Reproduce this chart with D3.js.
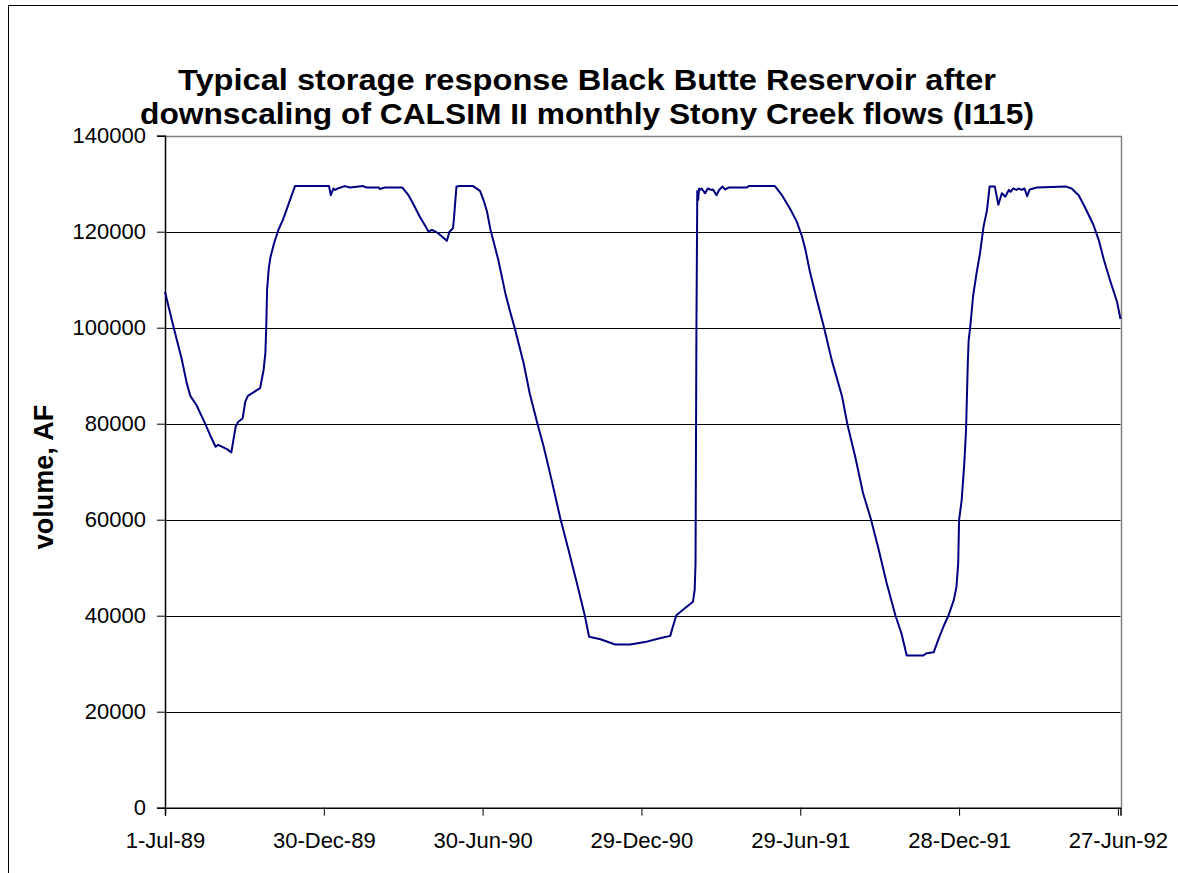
<!DOCTYPE html>
<html>
<head>
<meta charset="utf-8">
<script src="https://cdn.jsdelivr.net/npm/d3@7"></script>
<style>
  body { margin: 0; background: #fff; }
  svg { display: block; }
</style>
</head>
<body>
<svg id="chart" width="1178" height="873"></svg>
<script>
// ---- data ----
const startDate = "1989-07-01";
// day offsets from 1-Jul-89
const dayIndex = [0,10,19,25,29,36,46,52,58,61,71,76,81,84,89,92,95,109,113,115,116,117,119,121,125,130,135,140,144,149,
  188,190,193,195,198,206,212,227,231,245,246,252,272,279,285,292,299,302,306,313,323,326,330,331,334,338,353,
  361,365,369,373,378,382,390,395,401,411,418,427,434,443,453,462,472,481,486,499,516,533,550,567,579,582,586,594,605,607,608,609,
  610,611,612,613,615,619,622,626,628,632,635,639,642,646,667,669,699,707,716,724,730,734,739,747,755,764,776,782,791,800,809,818,827,837,844,850,
  869,873,881,886,892,898,904,907,909,910,913,916,918,920,921,923,926,930,934,938,942,945,951,955,959,963,967,969,972,976,978,982,985,988,991,999,
  1033,1039,1047,1054,1064,1070,1076,1083,1091,1095];
// storage, acre-feet
const storage = [107500,100000,93600,88400,85800,83900,80000,77500,75200,75600,74700,74000,79400,80400,81100,84600,85800,87400,91200,94700,99900,107900,112500,114800,117600,120400,122400,124900,127000,129500,
  129500,127600,129000,128700,129000,129500,129200,129500,129200,129200,128900,129200,129200,127600,125600,123100,121000,120000,120400,119700,118100,120000,120700,122400,129400,129500,129500,
  128500,126600,124200,120400,116900,114100,107200,103700,99800,92600,86300,79900,75200,68300,60300,54000,46800,40100,35600,35100,34000,34000,34500,35300,35800,37700,40100,41300,42900,45400,50900,99500,
  128500,126600,129000,128700,129000,128000,129000,128700,128800,127600,128700,129400,128800,129200,129200,129500,129500,127600,124900,122100,119000,116200,111700,105800,100200,93300,85600,79900,73100,65500,60100,53700,46800,40100,36300,31700,
  31700,32200,32400,34900,37700,40100,43300,46000,50900,59900,64100,71800,78700,92600,97400,100500,106500,111300,115500,121000,124500,129400,129400,125600,128000,127300,128700,128300,129000,128700,129000,128700,129000,127400,128800,129200,
  129400,129000,127600,125200,121400,118300,114100,109900,105400,101800];
const yTicks = [0,20000,40000,60000,80000,100000,120000,140000];
const xTickLabels = ["1-Jul-89","30-Dec-89","30-Jun-90","29-Dec-90","29-Jun-91","28-Dec-91","27-Jun-92"];
const titleLines = ["Typical storage response Black Butte Reservoir after",
                    "downscaling of CALSIM II monthly Stony Creek flows (I115)"];
const yLabel = "volume, AF";

// ---- build ----
const svg = d3.select("#chart");
const FONT = "Liberation Sans, Arial, sans-serif";
const t0 = d3.timeParse("%Y-%m-%d")(startDate);
const data = dayIndex.map((d, i) => ({ date: d3.timeDay.offset(t0, d), v: storage[i] }));
const tickDates = xTickLabels.map(s => d3.timeParse("%-d-%b-%y")(s));

const L = 165, R = 1120.5, T = 135.7, B = 807.7;
const x = d3.scaleTime().domain([t0, d3.timeDay.offset(t0, 1095)]).range([L, R]);
const y = d3.scaleLinear().domain([0, 140000]).range([B, T]);

// outer chart border
svg.append("rect").attr("x", 8.5).attr("y", 5.5).attr("width", 1200).attr("height", 900)
  .attr("fill", "none").attr("stroke", "#000").attr("stroke-width", 1);

// gridlines
svg.append("g").selectAll("line").data(yTicks.filter(v => v > 0 && v < 140000)).join("line")
  .attr("x1", L).attr("x2", R).attr("y1", d => Math.round(y(d)) + 0.5).attr("y2", d => Math.round(y(d)) + 0.5)
  .attr("stroke", "#000").attr("stroke-width", 1);

// plot border top/right (grey)
svg.append("path")
  .attr("d", `M${L},${Math.round(T)+0.5}H${Math.round(R)+0.5}V${B}`)
  .attr("fill", "none").attr("stroke", "#808080").attr("stroke-width", 1.5);

// y axis
const yAxis = d3.axisLeft(y).tickValues(yTicks).tickSize(8).tickPadding(11).tickFormat(d3.format("d"));
const gy = svg.append("g").attr("transform", `translate(${L},0)`).call(yAxis);
gy.select(".domain").attr("stroke", "#000").attr("stroke-width", 1.5);
gy.selectAll(".tick line").attr("stroke", "#000");
gy.selectAll("text").attr("font-family", FONT).attr("font-size", 22).attr("fill", "#000");

// x axis
const xAxis = d3.axisBottom(x).tickValues(tickDates).tickSize(8).tickPadding(17)
  .tickFormat((d, i) => xTickLabels[i]);
const gx = svg.append("g").attr("transform", `translate(0,${B})`).call(xAxis);
gx.select(".domain").attr("stroke", "#000").attr("stroke-width", 1.5);
gx.selectAll(".tick line").attr("stroke", "#000");
gx.selectAll("text").attr("font-family", FONT).attr("font-size", 22).attr("fill", "#000");

// series line
const line = d3.line().x(d => x(d.date)).y(d => y(d.v));
svg.append("path").datum(data).attr("d", line)
  .attr("fill", "none").attr("stroke", "#000080").attr("stroke-width", 2).attr("stroke-linejoin", "round");

// title
const titleWidths = [818, 894];
svg.append("g").selectAll("text").data(titleLines).join("text")
  .attr("x", 587).attr("y", (d, i) => 90 + i * 34)
  .attr("text-anchor", "middle")
  .attr("font-family", FONT).attr("font-weight", "bold").attr("font-size", 30)
  .attr("textLength", (d, i) => titleWidths[i]).attr("lengthAdjust", "spacingAndGlyphs")
  .text(d => d);

// y label
svg.append("text")
  .attr("transform", `translate(53,477) rotate(-90)`)
  .attr("text-anchor", "middle")
  .attr("font-family", FONT).attr("font-weight", "bold").attr("font-size", 27)
  .text(yLabel);
</script>
</body>
</html>
